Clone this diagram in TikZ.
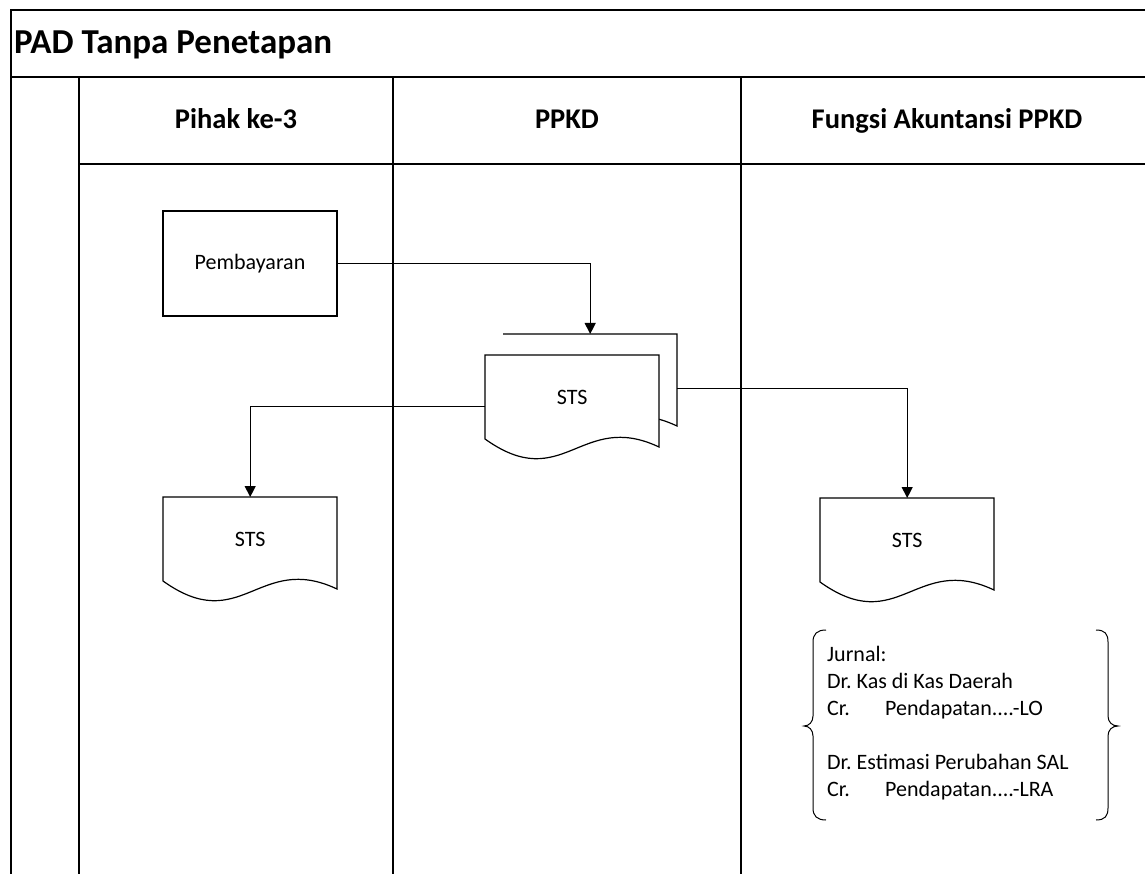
\documentclass[tikz,border=0pt]{standalone}
\usepackage{fontspec}
\setmainfont{Carlito}
\usetikzlibrary{arrows.meta,calc}
\frenchspacing
\newcommand{\docshapeat}[2]{%
  \begin{scope}[shift={(#1,#2)}]
    \draw[docline] (0,84) -- (0,0) -- (174,0) -- (174,92) .. controls (95.7,55) and (78.3,140) .. (0,84) -- cycle;
  \end{scope}}
\begin{document}
\begin{tikzpicture}[x=1pt,y=-1pt,
  rule/.style={line width=1.2pt},
  bodyfont/.style={font=\fontsize{22}{27}\selectfont},
  procbox/.style={draw, line width=1.2pt, minimum width=174pt, minimum height=105pt, inner sep=0pt, bodyfont},
  docnode/.style={minimum width=174pt, minimum height=84pt, inner sep=0pt, anchor=north west, bodyfont},
  docline/.style={line width=1.2pt, fill=white, line join=miter},
  flow/.style={line width=1.2pt, -{Triangle[length=11pt,width=11pt]}},
  headtext/.style={anchor=base, inner sep=0pt, font=\bfseries\fontsize{28.5}{32}\selectfont},
  jline/.style={anchor=base west, inner sep=0pt, bodyfont},
  bracestyle/.style={line width=1pt}]
\useasboundingbox (0,0) rectangle (1145,874);
\fill[white] (0,0) rectangle (1145,874);

% frame and lanes
\draw[rule] (11,874) -- (11,10) -- (1145,10);
\draw[rule] (11,77) -- (1145,77);
\draw[rule] (79,77) -- (79,874);
\draw[rule] (79,164) -- (1145,164);
\draw[rule] (393,77) -- (393,874);
\draw[rule] (741,77) -- (741,874);

% title and headers
\node[anchor=base west, inner sep=0pt, font=\bfseries\fontsize{35}{40}\selectfont] (title) at (14,54) {PAD Tanpa Penetapan};
\node[headtext] (h1) at (236,129) {Pihak ke-3};
\node[headtext] (h2) at (567,129) {PPKD};
\node[headtext] (h3) at (947,129) {Fungsi Akuntansi PPKD};

% process box
\node[procbox] (pay) at (250,263.5) {Pembayaran};

% multi-document in PPKD lane (back page then front page)
\begin{scope}[shift={(503,334)}]
  \draw[docline] (0,0) -- (174,0) -- (174,92) .. controls (95.7,55) and (78.3,140) .. (0,84);
\end{scope}
\docshapeat{485}{355}
\node[docnode] (stsBack) at (503,334) {};
\node[docnode] (stsM) at (485,355) {STS};

% documents
\docshapeat{163}{497}
\node[docnode] (stsL) at (163,497) {STS};
\docshapeat{820}{498}
\node[docnode] (stsR) at (820,498) {STS};

% connectors
\draw[flow] (pay.east) -| (stsBack.north);
\draw[flow] ([yshift=-9pt]stsM.west) -| (stsL.north);
\draw[flow] ([yshift=-12pt]stsBack.east) -| (stsR.north);

% journal
\node[jline] (j1) at (827,661) {Jurnal:};
\node[jline] (j2) at (827,688) {Dr. Kas di Kas Daerah};
\node[jline] (j3) at (827,715) {\makebox[58pt][l]{Cr.}Pendapatan....-LO};
\node[jline] (j4) at (827,769) {Dr. Estimasi Perubahan SAL};
\node[jline] (j5) at (827,796) {\makebox[58pt][l]{Cr.}Pendapatan....-LRA};

% braces
\draw[bracestyle] (826,630) .. controls (817,630) and (813,634) .. (813,642) -- (813,716)
  .. controls (813,722) and (809,726) .. (804,726)
  .. controls (809,726) and (813,730) .. (813,736) -- (813,808)
  .. controls (813,816) and (817,820) .. (826,820);
\draw[bracestyle] (1096,630) .. controls (1105,630) and (1108,634) .. (1108,642) -- (1108,716)
  .. controls (1108,722) and (1112,726) .. (1118,726)
  .. controls (1112,726) and (1108,730) .. (1108,736) -- (1108,808)
  .. controls (1108,816) and (1105,820) .. (1096,820);
\end{tikzpicture}
\end{document}
